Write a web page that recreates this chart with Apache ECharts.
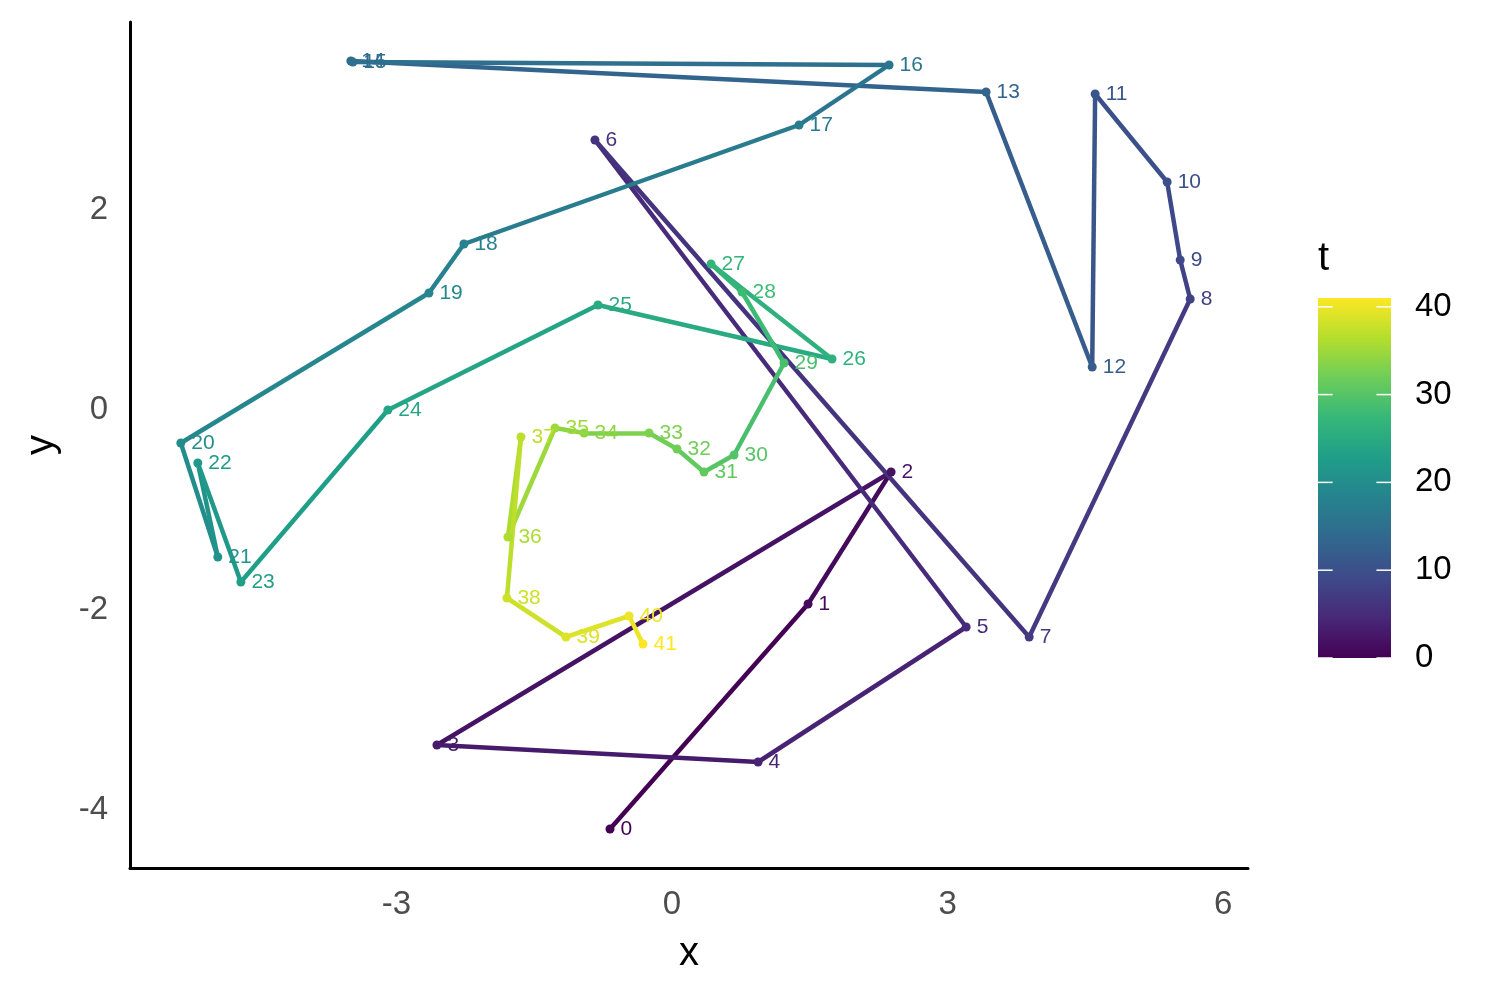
<!DOCTYPE html>
<html><head><meta charset="utf-8">
<script src="https://cdn.jsdelivr.net/npm/echarts@6/dist/echarts.min.js"></script>
<style>html,body{margin:0;padding:0;background:#fff}#c{width:1500px;height:1000px}</style>
</head><body><div id="c"></div>
<script>
// ---- data ----
const tValues = [0,1,2,3,4,5,6,7,8,9,10,11,12,13,14,15,16,17,18,19,20,21,22,23,24,25,26,27,28,29,30,31,32,33,34,35,36,37,38,39,40,41];
const xValues = [-0.675,1.481,2.385,-2.559,0.937,3.202,-0.839,3.888,5.641,5.532,5.390,4.606,4.574,3.419,-3.496,-3.474,2.363,1.383,-2.265,-2.646,-5.347,-4.944,-5.162,-4.693,-3.093,-0.806,1.742,0.425,0.762,1.220,0.675,0.348,0.054,-0.250,-0.958,-1.274,-1.786,-1.644,-1.797,-1.154,-0.468,-0.316];
const yValues = [-4.19,-1.94,-0.62,-3.35,-3.52,-2.17,2.70,-2.27,1.11,1.50,2.28,3.16,0.43,3.18,3.49,3.48,3.45,2.85,1.66,1.17,-0.33,-1.47,-0.53,-1.72,0.00,1.05,0.51,1.46,1.18,0.47,-0.45,-0.62,-0.39,-0.23,-0.23,-0.18,-1.27,-0.27,-1.88,-2.27,-2.06,-2.34];
const xTicks = [-3,0,3,6];
const yTicks = [-4,-2,0,2];
const legendTicks = [0,10,20,30,40];

// ---- style ----
const FONT = 'Liberation Sans, Arial, Helvetica, sans-serif';
const LW = 4.5;
const viridis = ['#440154','#482878','#3E4A89','#31688E','#26828E','#1F9E89','#35B779','#6DCD59','#B4DE2C','#FDE725'];
const tMin = Math.min(...tValues), tMax = Math.max(...tValues);
function hex2rgb(h){return [parseInt(h.slice(1,3),16),parseInt(h.slice(3,5),16),parseInt(h.slice(5,7),16)];}
function colorOf(v){
  let f = (v - tMin) / (tMax - tMin); f = Math.max(0, Math.min(1, f));
  const p = f * (viridis.length - 1); const i = Math.min(viridis.length - 2, Math.floor(p)); const r = p - i;
  const a = hex2rgb(viridis[i]), b = hex2rgb(viridis[i+1]);
  return 'rgb(' + [0,1,2].map(k => Math.round(a[k] + (b[k]-a[k]) * r)).join(',') + ')';
}
const stops = viridis.map((c,i) => ({offset: i/(viridis.length-1), color: c}));

const segData = [];
for (let i = 0; i < tValues.length - 1; i++) {
  segData.push({coords: [[xValues[i], yValues[i]], [xValues[i+1], yValues[i+1]]],
    lineStyle: {color: colorOf(tValues[i]), width: LW, opacity: 1}});
}
const ptData = tValues.map((t,i) => ({
  value: [xValues[i], yValues[i], t],
  itemStyle: {color: colorOf(t), opacity: 1},
  label: {color: colorOf(t)}
}));

const chart = echarts.init(document.getElementById('c'), null, {renderer: 'canvas'});
chart.setOption({
  animation: false,
  backgroundColor: '#fff',
  title: {text: 't', left: 1313, top: 234, textStyle: {fontFamily: FONT, fontSize: 40, fontWeight: 'normal', color: '#000'}},
  grid: [
    {left: 130, right: 252, top: 22, bottom: 132},
    {left: 1318, width: 73, top: 298, height: 360}
  ],
  xAxis: [
    {type: 'value', gridIndex: 0, min: -5.9, max: 6.27,
     name: 'x', nameLocation: 'middle', nameGap: 66,
     nameTextStyle: {fontFamily: FONT, fontSize: 40, color: '#000'},
     axisLine: {show: true, onZero: false, lineStyle: {color: '#000', width: 3}},
     axisTick: {show: false}, splitLine: {show: false},
     axisLabel: {customValues: xTicks, fontFamily: FONT, fontSize: 33, color: '#4D4D4D', margin: 20}},
    {type: 'value', gridIndex: 1, min: 0, max: 1, show: false}
  ],
  yAxis: [
    {type: 'value', gridIndex: 0, min: -4.58, max: 3.88,
     name: 'y', nameLocation: 'middle', nameGap: 68,
     nameTextStyle: {fontFamily: FONT, fontSize: 40, color: '#000'},
     axisLine: {show: true, onZero: false, lineStyle: {color: '#000', width: 3}},
     axisTick: {show: false}, splitLine: {show: false},
     axisLabel: {customValues: yTicks, fontFamily: FONT, fontSize: 33, color: '#4D4D4D', margin: 22}},
    {type: 'value', gridIndex: 1, min: tMin, max: tMax, position: 'right',
     axisLine: {show: false}, axisTick: {show: false}, splitLine: {show: false},
     axisLabel: {customValues: legendTicks, fontFamily: FONT, fontSize: 33, color: '#000', margin: 24}}
  ],
  series: [
    {type: 'lines', coordinateSystem: 'cartesian2d', xAxisIndex: 0, yAxisIndex: 0, z: 2,
     lineStyle: {width: LW, opacity: 1, cap: 'butt'}, data: segData},
    {type: 'scatter', xAxisIndex: 0, yAxisIndex: 0, z: 3, symbolSize: 9,
     itemStyle: {opacity: 1},
     label: {show: true, position: 'right', distance: 6, fontFamily: FONT, fontSize: 21,
       formatter: p => String(p.value[2])},
     data: ptData},
    {type: 'custom', xAxisIndex: 1, yAxisIndex: 1, z: 2, data: [[0, tMin]],
     renderItem: function(params, api){
       const p0 = api.coord([0, tMin]), p1 = api.coord([1, tMax]);
       const x0 = p0[0], x1 = p1[0], yb = p0[1], yt = p1[1];
       const w = (x1 - x0) / 5;
       const ch = [{type: 'rect', shape: {x: x0, y: yt, width: x1 - x0, height: yb - yt},
         style: {fill: new echarts.graphic.LinearGradient(0, 1, 0, 0, stops)}}];
       legendTicks.forEach(v => {
         const yy = api.coord([0, v])[1];
         ch.push({type: 'line', shape: {x1: x0, y1: yy, x2: x0 + w, y2: yy}, style: {stroke: '#fff', lineWidth: 1.5}});
         ch.push({type: 'line', shape: {x1: x1 - w, y1: yy, x2: x1, y2: yy}, style: {stroke: '#fff', lineWidth: 1.5}});
       });
       return {type: 'group', children: ch};
     }}
  ]
});
</script>
</body></html>
